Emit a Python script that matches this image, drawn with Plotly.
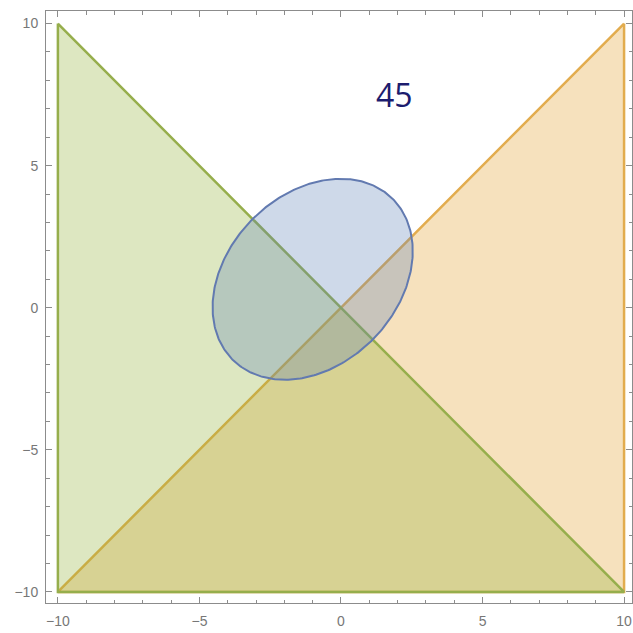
import numpy as np
import plotly.graph_objects as go

# --- data ---
green_x = [-10, -10, 10, -10]
green_y = [10, -10, -10, 10]
orange_x = [10, 10, -10, 10]
orange_y = [10, -10, -10, 10]
ellipse_center = (-1.0, 1.0)
ellipse_axes = (4.0, 3.0)
ellipse_angle_deg = 45
label_text = "45"
label_pos = (1.9, 7.5)
tick_vals = [-10, -5, 0, 5, 10]
tick_text = ["\u221210", "\u22125", "0", "5", "10"]

GREEN_FILL = "rgba(143,176,50,0.3)"
GREEN_LINE = "rgb(150,174,76)"
ORANGE_FILL = "rgba(225,156,36,0.3)"
ORANGE_LINE = "rgb(226,172,78)"
BLUE_FILL = "rgba(94,129,181,0.3)"
BLUE_LINE = "rgb(98,122,176)"

t = np.linspace(0, 2 * np.pi, 361)
phi = np.deg2rad(ellipse_angle_deg)
a, b = ellipse_axes
cx, cy = ellipse_center
ex = cx + a * np.cos(t) * np.cos(phi) - b * np.sin(t) * np.sin(phi)
ey = cy + a * np.cos(t) * np.sin(phi) + b * np.sin(t) * np.cos(phi)

fig = go.Figure()
fig.add_trace(go.Scatter(x=orange_x, y=orange_y, mode="lines", fill="toself",
                         fillcolor=ORANGE_FILL, line=dict(color=ORANGE_LINE, width=2.5),
                         hoverinfo="skip", showlegend=False))
fig.add_trace(go.Scatter(x=green_x, y=green_y, mode="lines", fill="toself",
                         fillcolor=GREEN_FILL, line=dict(color=GREEN_LINE, width=2.5),
                         hoverinfo="skip", showlegend=False))
fig.add_trace(go.Scatter(x=ex, y=ey, mode="lines", fill="toself",
                         fillcolor=BLUE_FILL, line=dict(color=BLUE_LINE, width=2),
                         hoverinfo="skip", showlegend=False))

fig.add_annotation(x=label_pos[0], y=label_pos[1], text=label_text, showarrow=False,
                   font=dict(size=32, color="rgb(28,28,110)", family="Open Sans"))

axis_common = dict(
    showgrid=False, zeroline=False, showline=True, linecolor="#8c8c8c", linewidth=1,
    mirror="ticks", ticks="inside", ticklen=6, tickcolor="#8c8c8c", tickwidth=1,
    tickvals=tick_vals, ticktext=tick_text,
    tickfont=dict(size=14, color="#777777", family="Liberation Sans"),
    minor=dict(dtick=1, ticks="inside", ticklen=3.5, tickcolor="#8c8c8c", tickwidth=1, showgrid=False),
)
fig.update_xaxes(range=[-10.42, 10.28], automargin=False, ticklabelstandoff=5, **axis_common)
fig.update_yaxes(range=[-10.39, 10.44], automargin=False, ticklabelstandoff=4, **axis_common)

fig.update_layout(
    width=633, height=633, autosize=False,
    margin=dict(l=46, r=1, t=11, b=30),
    plot_bgcolor="white", paper_bgcolor="white",
)
fig.write_html(
    "out.html",
    config={"displayModeBar": False},
    post_script="document.body.style.margin='0';document.body.style.overflow='hidden';",
)
